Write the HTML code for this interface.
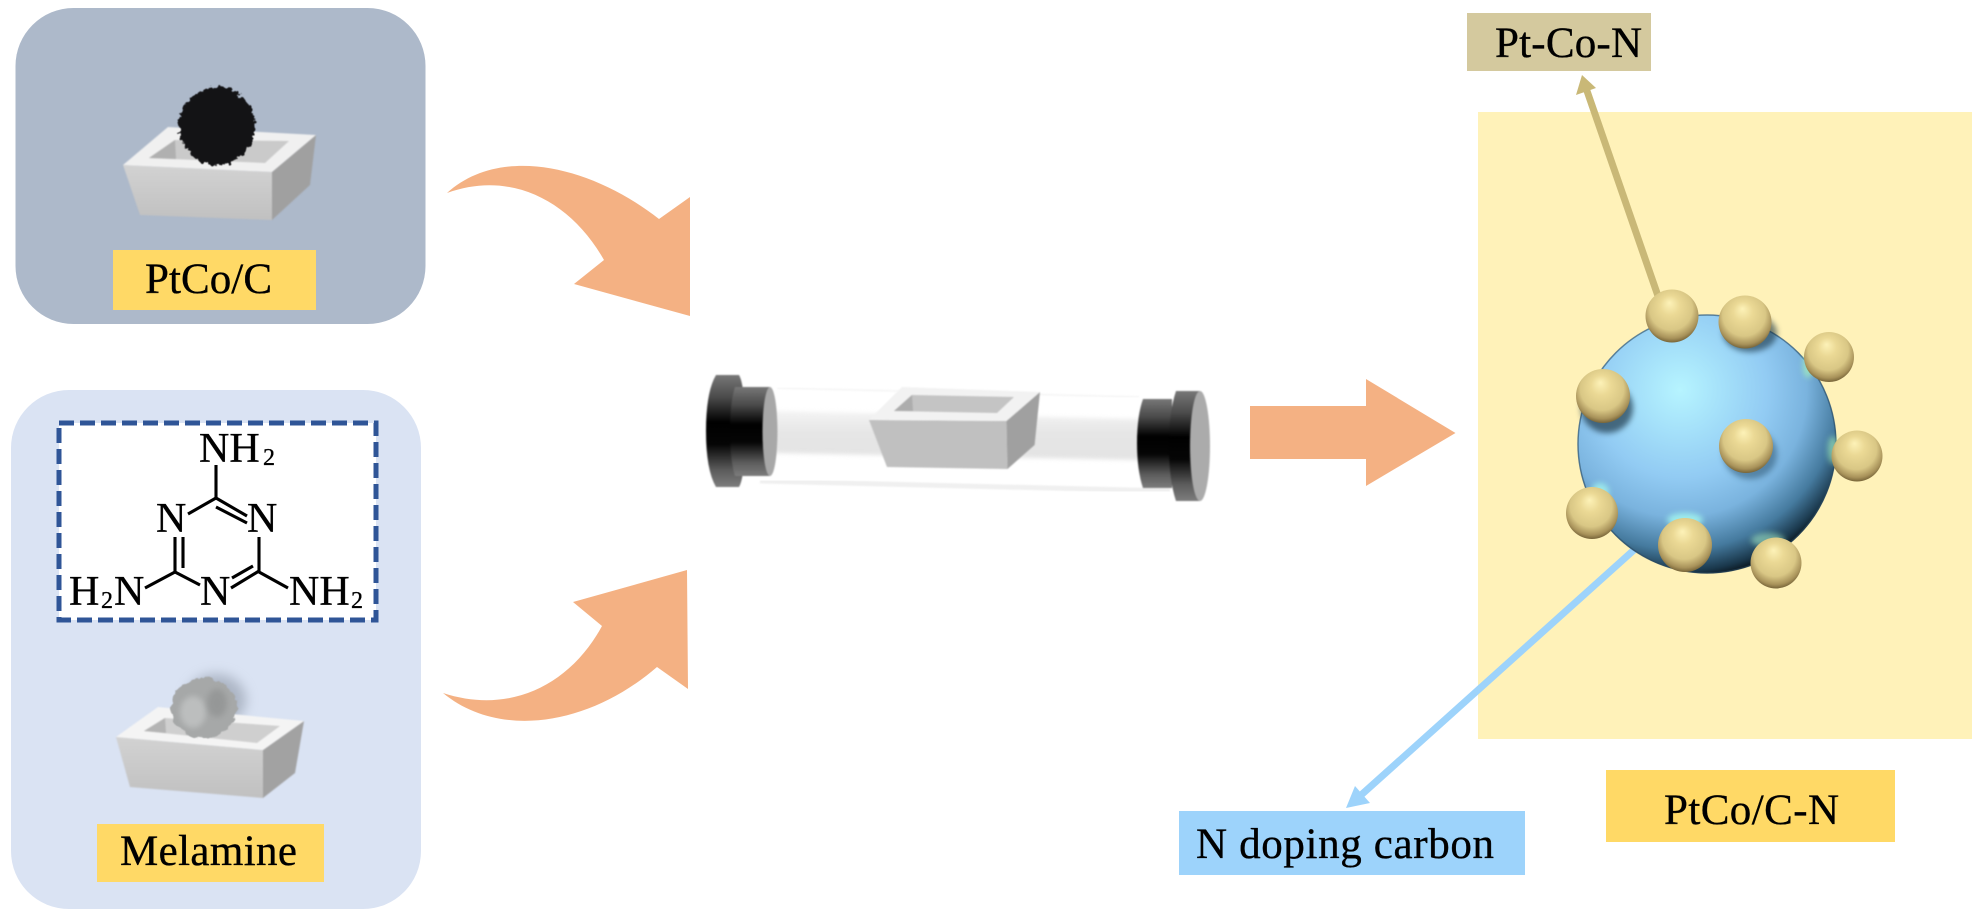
<!DOCTYPE html>
<html>
<head>
<meta charset="utf-8">
<style>
html,body{margin:0;padding:0;background:#fff;width:1984px;height:918px;overflow:hidden}
svg{display:block}
text{font-family:"Liberation Serif",serif;fill:#000;stroke:#000;stroke-width:.35}
</style>
</head>
<body>
<svg width="1984" height="918" viewBox="0 0 1984 918" xmlns="http://www.w3.org/2000/svg" color-interpolation-filters="sRGB">
<defs>
  <linearGradient id="cap" x1="0" y1="0" x2="0" y2="1">
    <stop offset="0" stop-color="#777"/><stop offset=".2" stop-color="#4a4a4a"/>
    <stop offset=".42" stop-color="#000"/><stop offset=".62" stop-color="#050505"/>
    <stop offset=".85" stop-color="#5c5c5c"/><stop offset="1" stop-color="#7c7c7c"/>
  </linearGradient>
  <linearGradient id="tube" x1="0" y1="0" x2="0" y2="1">
    <stop offset="0" stop-color="#f4f4f4"/><stop offset=".45" stop-color="#e6e6e6"/>
    <stop offset="1" stop-color="#e4e4e4"/>
  </linearGradient>
  <linearGradient id="front" x1="0" y1="0" x2="0" y2="1">
    <stop offset="0" stop-color="#d2d2d2"/><stop offset="1" stop-color="#c0c0c0"/>
  </linearGradient>
  <radialGradient id="sph" gradientUnits="userSpaceOnUse" cx="1680" cy="390" r="195" fx="1680" fy="390">
    <stop offset="0" stop-color="#b6f4ff"/><stop offset=".2" stop-color="#a6e2fa"/>
    <stop offset=".45" stop-color="#92cbf3"/><stop offset=".65" stop-color="#7ab3de"/>
    <stop offset=".82" stop-color="#457a9e"/><stop offset=".93" stop-color="#1a384c"/>
    <stop offset="1" stop-color="#000"/>
  </radialGradient>
  <radialGradient id="ball" cx=".5" cy=".42" r=".62" fx=".45" fy=".25">
    <stop offset="0" stop-color="#fdf2b8"/><stop offset=".3" stop-color="#ebd995"/>
    <stop offset=".65" stop-color="#d9c785"/><stop offset=".85" stop-color="#a8925a"/>
    <stop offset="1" stop-color="#5f4e28"/>
  </radialGradient>
  <filter id="rough" x="-20%" y="-20%" width="140%" height="140%">
    <feTurbulence type="fractalNoise" baseFrequency=".22" numOctaves="2" seed="4" result="n"/>
    <feDisplacementMap in="SourceGraphic" in2="n" scale="9" xChannelSelector="R" yChannelSelector="G"/>
    <feGaussianBlur stdDeviation=".5"/>
  </filter>
  <filter id="rough2" x="-20%" y="-20%" width="140%" height="140%">
    <feTurbulence type="fractalNoise" baseFrequency=".15" numOctaves="2" seed="9" result="n"/>
    <feDisplacementMap in="SourceGraphic" in2="n" scale="7" xChannelSelector="R" yChannelSelector="G"/>
    <feGaussianBlur stdDeviation=".6"/>
  </filter>
  <filter id="soft" x="-50%" y="-50%" width="200%" height="200%"><feGaussianBlur stdDeviation="6"/></filter>
  <filter id="soft2" x="-50%" y="-50%" width="200%" height="200%"><feGaussianBlur stdDeviation="3"/></filter>
  <filter id="soft1" x="-10%" y="-30%" width="120%" height="160%"><feGaussianBlur stdDeviation="2"/></filter>
  <filter id="edge" x="-5%" y="-5%" width="110%" height="110%"><feGaussianBlur stdDeviation=".7"/></filter>
</defs>

<!-- left panels -->
<rect x="15.5" y="8" width="410" height="316" rx="58" fill="#adb9ca"/>
<rect x="11" y="390" width="410" height="519" rx="58" fill="#dae3f3"/>

<!-- crucible 1 -->
<g filter="url(#edge)">
  <polygon points="123,165 272,172 272,220 140,215" fill="url(#front)"/>
  <polygon points="272,172 316,135 310,185 272,220" fill="#a0a0a0"/>
  <polygon points="123,165 168,127 316,135 272,172" fill="#f0f0f0"/>
  <polygon points="149,158 175,140 289,141 265,163" fill="#cacaca"/>
  <polygon points="149,158 175,140 176,159" fill="#b0b0b0"/>
</g>
<ellipse cx="217" cy="126" rx="38" ry="39" fill="#131315" filter="url(#rough)"/>

<rect x="113" y="250" width="203" height="60" fill="#ffd966"/>
<text x="145" y="293" font-size="43" textLength="127">PtCo/C</text>

<!-- melamine box -->
<rect x="59" y="423" width="317" height="197" fill="#fff" stroke="#2f5597" stroke-width="5" stroke-dasharray="15 6"/>
<g stroke="#000" stroke-width="3.1" fill="none">
  <path d="M216,465V498"/>
  <path d="M216,498L188,514"/>
  <path d="M216,498L247,516M216,507L247,523"/>
  <path d="M175,537V572M183,537V568"/>
  <path d="M175,572L145,588"/>
  <path d="M175,572L200,585"/>
  <path d="M259,537V572"/>
  <path d="M259,571L231,588M253,566L232,578"/>
  <path d="M259,572L288,588"/>
</g>
<text x="199" y="462" font-size="42">NH</text>
<text x="263" y="465" font-size="24">2</text>
<text x="156" y="532" font-size="42">N</text>
<text x="247" y="532" font-size="42">N</text>
<text x="69" y="605" font-size="42">H</text>
<text x="101" y="608" font-size="24">2</text>
<text x="114" y="605" font-size="42">N</text>
<text x="200" y="605" font-size="42">N</text>
<text x="289" y="605" font-size="42">NH</text>
<text x="351" y="608" font-size="24">2</text>

<!-- crucible 2 -->
<ellipse cx="216" cy="700" rx="30" ry="26" fill="#8e97a6" opacity=".6" filter="url(#soft)"/>
<g filter="url(#edge)">
  <polygon points="116,737 263,750 263,798 130,787" fill="url(#front)"/>
  <polygon points="263,750 304,721 295,773 263,798" fill="#a2a2a2"/>
  <polygon points="116,737 158,707 304,721 263,750" fill="#f4f4f4"/>
  <polygon points="144,731 165,718 280,726 257,743" fill="#cfcfcf"/>
  <polygon points="144,731 165,718 166,733" fill="#b4b4b4"/>
</g>
<ellipse cx="204" cy="708" rx="33" ry="30" fill="#a6a8a8" filter="url(#rough2)"/>
<ellipse cx="193" cy="712" rx="13" ry="16" fill="#bcbebe" filter="url(#soft2)"/>
<ellipse cx="217" cy="703" rx="10" ry="14" fill="#8f9191" opacity=".7" filter="url(#soft2)"/>
<rect x="97" y="824" width="227" height="58" fill="#ffd966"/>
<text x="120" y="865" font-size="43" textLength="177">Melamine</text>

<!-- curved arrows -->
<path d="M447,193 C500,145 590,165 659,219 L690,197 V316 L574,284 L604,260 C570,200 510,170 447,193 Z" fill="#f4b183"/>
<path d="M443,693 C500,740 590,725 657,667 L688,689 L687,570 L573,602 L602,626 C570,685 510,715 443,693 Z" fill="#f4b183"/>
<polygon points="1250,406 1366,406 1366,379 1455.5,433 1366,486 1366,459 1250,459" fill="#f4b183"/>

<!-- tube -->
<polygon points="775,411 1140,419 1140,460 775,453" fill="url(#tube)" filter="url(#soft1)"/>
<path d="M777,388L1139,397" stroke="#f7f7f7" stroke-width="2" filter="url(#edge)"/>
<path d="M760,481L1170,491" stroke="#f0f0f0" stroke-width="5" filter="url(#edge)"/>
<g filter="url(#edge)">
  <path d="M716,375H739Q745,385 745,431Q745,477 739,487H716Q706,470 706,431Q706,392 716,375Z" fill="url(#cap)"/>
  <path d="M735,387H770V476H735Q730,460 730,431Q730,402 735,387Z" fill="url(#cap)"/>
  <ellipse cx="770" cy="431.5" rx="7.5" ry="44.5" fill="#a8a8a8"/>
  <path d="M1143,399H1172V488H1143Q1137,470 1137,443Q1137,416 1143,399Z" fill="url(#cap)"/>
  <path d="M1176,391H1200V501H1176Q1169,480 1169,446Q1169,412 1176,391Z" fill="url(#cap)"/>
  <ellipse cx="1200" cy="446" rx="10" ry="55" fill="#ababab"/>
</g>

<!-- crucible 3 -->
<g filter="url(#edge)">
  <polygon points="869,420 1006.5,421 1007.5,469 887,467" fill="#c0c0c0"/>
  <polygon points="1006.5,421 1040,392 1034.6,445 1007.5,469" fill="#a0a0a0"/>
  <polygon points="869,420 902,387 1040,392 1006.5,421" fill="#f2f2f2"/>
  <polygon points="894,411 912,395 1014,397 997,413" fill="#c4c4c4"/>
  <polygon points="894,411 912,395 913,411" fill="#adadad"/>
</g>

<!-- right panel -->
<rect x="1478" y="112" width="494" height="627" fill="#fff2b9"/>

<!-- leader arrows -->
<path d="M1658,296L1586,88" stroke="#c9b877" stroke-width="7" fill="none"/>
<polygon points="1582,75 1596,88 1576,95" fill="#c9b877"/>
<path d="M1635,549L1360,796" stroke="#9dd3fb" stroke-width="7" fill="none"/>
<polygon points="1346,808 1355,786 1370,803" fill="#9dd3fb"/>

<!-- sphere -->
<circle cx="1707" cy="444" r="129.5" fill="url(#sph)"/>
<circle cx="1707" cy="444" r="129" fill="none" stroke="#2a4a60" stroke-width="1.5" opacity=".6"/>

<!-- glows and contact shadows -->
<g filter="url(#soft2)">
  <ellipse cx="1607" cy="408" rx="26" ry="25" fill="#1f3a4c" opacity=".7"/>
  <ellipse cx="1750" cy="333" rx="27" ry="19" fill="#16303f" opacity=".6"/>
  <ellipse cx="1750" cy="454" rx="27" ry="25" fill="#1d4058" opacity=".45"/>
  <ellipse cx="1685" cy="520" rx="18" ry="7" fill="#a8fff0" opacity=".75"/>
  <ellipse cx="1600" cy="492" rx="9" ry="9" fill="#a8fff0" opacity=".7"/>
  <ellipse cx="1768" cy="540" rx="17" ry="7" fill="#a8f0c8" opacity=".55"/>
  <ellipse cx="1808" cy="366" rx="5" ry="12" fill="#a8f5b8" opacity=".7"/>
  <ellipse cx="1833" cy="450" rx="5" ry="14" fill="#a8f5b8" opacity=".6"/>
</g>

<!-- Pt-Co balls -->
<circle cx="1672" cy="316" r="26.5" fill="url(#ball)"/>
<circle cx="1745" cy="322" r="26.5" fill="url(#ball)"/>
<circle cx="1829" cy="357" r="25" fill="url(#ball)"/>
<circle cx="1603" cy="396" r="27" fill="url(#ball)"/>
<circle cx="1746" cy="446" r="27" fill="url(#ball)"/>
<circle cx="1857" cy="456" r="25.5" fill="url(#ball)"/>
<circle cx="1592" cy="513" r="26" fill="url(#ball)"/>
<circle cx="1685" cy="545" r="27" fill="url(#ball)"/>
<circle cx="1776" cy="563" r="25.5" fill="url(#ball)"/>

<!-- labels -->
<rect x="1467" y="13" width="184" height="58" fill="#d4c99e"/>
<text x="1495" y="57" font-size="43" textLength="147">Pt-Co-N</text>
<rect x="1179" y="811" width="346" height="64" fill="#9dd3fb"/>
<text x="1196" y="858" font-size="43" textLength="298">N doping carbon</text>
<rect x="1606" y="770" width="289" height="72" fill="#ffd966"/>
<text x="1664" y="824" font-size="43" textLength="175">PtCo/C-N</text>
</svg>
</body>
</html>
